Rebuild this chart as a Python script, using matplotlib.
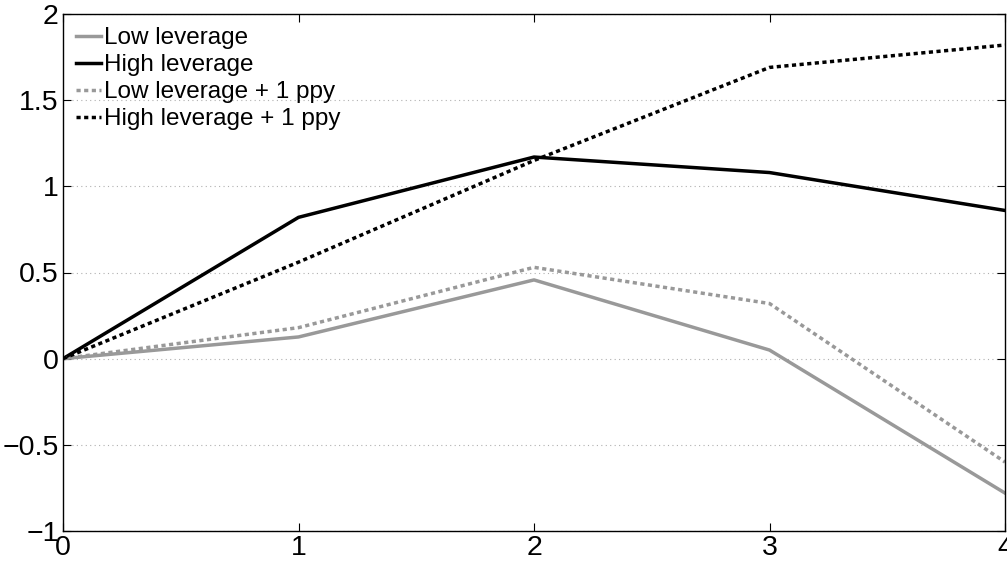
import matplotlib
matplotlib.use("Agg")
import matplotlib.pyplot as plt

# horizon (years) and responses
years = [0, 1, 2, 3, 4]
low_lev = [0, 0.126, 0.457, 0.05, -0.78]
high_lev = [0, 0.82, 1.17, 1.08, 0.86]
low_lev_ppy = [0, 0.18, 0.53, 0.32, -0.60]
high_lev_ppy = [0, 0.56, 1.15, 1.69, 1.82]
labels = ["Low leverage", "High leverage", "Low leverage + 1 ppy", "High leverage + 1 ppy"]

plt.rcParams['font.family'] = ['Liberation Sans', 'DejaVu Sans']

fig = plt.figure(figsize=(10.07, 5.63), dpi=100)
ax = fig.add_axes([63/1007, 32/563, 942/1007, 517/563])

gray = '#999999'
dots = (0, (1.2, 1.0))
lw = 2.5
ax.plot(years, low_lev, color=gray, lw=lw, label=labels[0])
ax.plot(years, high_lev, color='black', lw=lw, label=labels[1])
ax.plot(years, low_lev_ppy, color=gray, lw=lw, linestyle=dots, label=labels[2])
ax.plot(years, high_lev_ppy, color='black', lw=lw, linestyle=dots, label=labels[3])

ax.set_xlim(0, 4)
ax.set_ylim(-1, 2)
ax.set_xticks(years)
ax.set_yticks([-1, -0.5, 0, 0.5, 1, 1.5, 2])
ax.set_yticklabels(['\u22121', '\u22120.5', '0', '0.5', '1', '1.5', '2'])
ax.grid(axis='y', linestyle=(0, (1, 3)), color='#b0b0b0', lw=0.8)
ax.tick_params(direction='in', top=True, right=True, length=6, width=0.8,
               labelsize=20.5, pad=3)
for s in ax.spines.values():
    s.set_linewidth(1.0)

ax.legend(loc='upper left', frameon=False, fontsize=17.5, handlelength=1.0,
          handletextpad=0.15, labelspacing=0.2, borderaxespad=0.45,
          borderpad=0.1)

fig.savefig('out.png', dpi=100)
